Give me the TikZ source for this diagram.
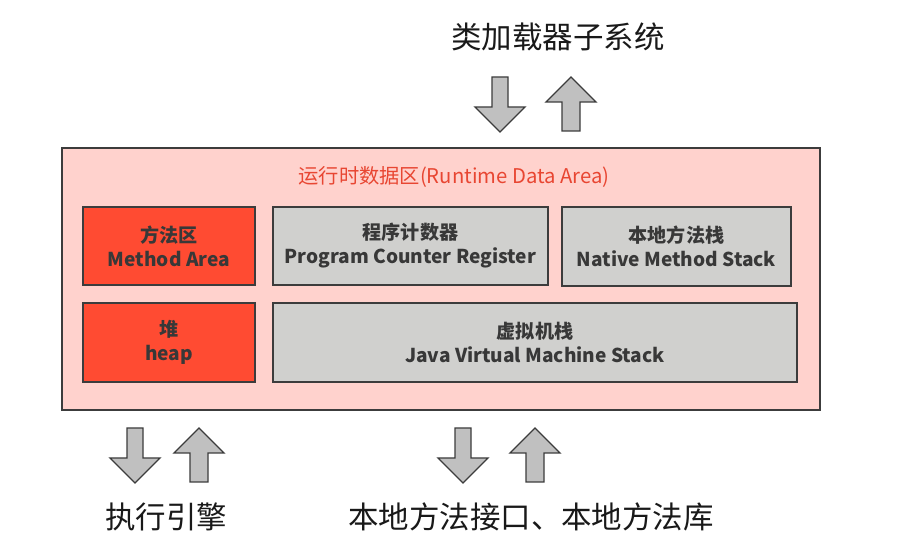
\documentclass[tikz,border=0pt]{standalone}
\usepackage{fontspec}
\setmainfont{Noto Sans CJK SC}
\usetikzlibrary{positioning}
\definecolor{areapink}{RGB}{255,210,205}
\definecolor{heapred}{RGB}{255,75,50}
\definecolor{regray}{RGB}{208,208,206}
\definecolor{edgegray}{RGB}{60,60,60}
\definecolor{titlered}{RGB}{232,70,50}
\definecolor{arrowgray}{RGB}{192,192,192}

\begin{document}
\begin{tikzpicture}[
    x=0.03cm, y=-0.03cm,
    membox/.style={draw=edgegray, line width=1.6pt, align=center,
        font=\bfseries\fontsize{16.3}{20.5}\selectfont, text=black!78,
        inner sep=0pt},
    redbox/.style={membox, fill=heapred, minimum width=5.16cm},
    graybox/.style={membox, fill=regray},
    blockarrow/.style={draw=edgegray, fill=arrowgray, line width=1.1pt, line join=miter},
    label/.style={font=\fontsize{26}{30}\selectfont, text=black!90},
    dnarrow/.pic={\draw[blockarrow] (-8,0) -- (8,0) -- (8,30) -- (25,30) -- (0,55) -- (-25,30) -- (-8,30) -- cycle;},
    uparrow/.pic={\draw[blockarrow] (-9,54) -- (9,54) -- (9,25) -- (25,25) -- (0,0) -- (-25,25) -- (-9,25) -- cycle;}
]
    % page frame
    \useasboundingbox (0,0) rectangle (921,545);

    % runtime data area
    \node[draw=edgegray, line width=1.6pt, fill=areapink, minimum width=22.74cm, minimum height=7.86cm] (area) at (441,279) {};
    \node[font=\fontsize{17.3}{20}\selectfont, text=titlered] (title) at (454,177) {运行时数据区(Runtime Data Area)};

    % memory parts
    \node[redbox, minimum height=2.34cm] (method) at (169,246) {方法区\\Method Area};
    \node[graybox, minimum width=8.25cm, minimum height=2.34cm] (pc) at (410.5,246) {程序计数器\\Program Counter Register};
    \node[graybox, minimum width=6.87cm, minimum height=2.37cm] (native) at (676.5,246.5) {本地方法栈\\Native Method Stack};
    \node[redbox, minimum height=2.37cm] (heap) at (169,342.5) {堆\\heap};
    \node[graybox, minimum width=15.72cm, minimum height=2.37cm] (vmstack) at (535,342.5) {虚拟机栈\\Java Virtual Machine Stack};

    % outside subsystems
    \node[label] (loader) at (558,37) {类加载器子系统};
    \node[label] (engine) at (166,517) {执行引擎};
    \node[label] (nativeif) at (531,517) {本地方法接口、本地方法库};

    % block arrows
    \pic (loaderin) at (500,77) {dnarrow};
    \pic (loaderout) at (571,77) {uparrow};
    \pic (enginein) at (135,428) {dnarrow};
    \pic (engineout) at (199,428) {uparrow};
    \pic (nativein) at (463,428) {dnarrow};
    \pic (nativeout) at (535,428) {uparrow};
\end{tikzpicture}
\end{document}
